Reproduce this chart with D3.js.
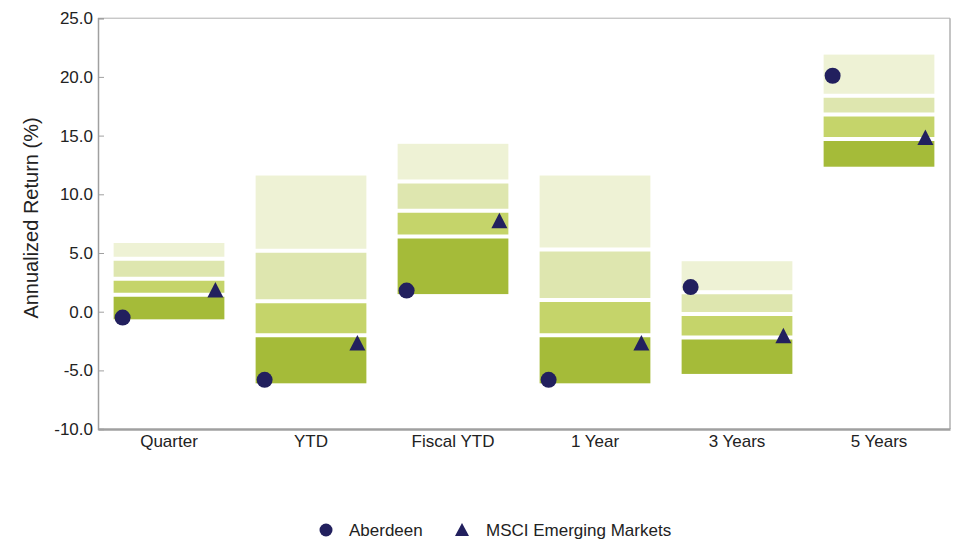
<!DOCTYPE html>
<html><head><meta charset="utf-8">
<script src="https://cdn.jsdelivr.net/npm/d3@7"></script>
<style>
html,body{margin:0;padding:0;background:#fff;}
text{font-family:"Liberation Sans",Arial,sans-serif;fill:#222;}
</style></head>
<body>
<svg id="chart" width="954" height="543"></svg>
<script>
const categories = ["Quarter","YTD","Fiscal YTD","1 Year","3 Years","5 Years"];
const p95 = [5.85, 11.6, 14.3, 11.6, 4.3, 21.9];
const p75 = [4.5, 5.2, 11.1, 5.3, 1.65, 18.4];
const p50 = [2.8, 0.9, 8.6, 1.0, -0.2, 16.8];
const p25 = [1.45, -2.0, 6.4, -2.0, -2.2, 14.7];
const p5  = [-0.65, -6.1, 1.5, -6.1, -5.3, 12.35];
const aberdeen = [-0.5, -5.8, 1.8, -5.8, 2.1, 20.1];
const msci = [1.8, -2.7, 7.7, -2.7, -2.1, 14.8];
const yTicks = [25, 20, 15, 10, 5, 0, -5, -10];
const legendLabels = ["Aberdeen", "MSCI Emerging Markets"];
const bandColors = ["#eef2d5", "#dee6af", "#c5d46a", "#a5bb39"];

const svg = d3.select("#chart");
const L = 98, R = 950, T = 18.2, B = 429.1;
const x = d3.scaleBand().domain(categories).range([L, R]).paddingInner(0.22).paddingOuter(0.11);
const y = d3.scaleLinear().domain([-10, 25]).range([B, T]);
const navy = "#22205e";

// frame
svg.append("line").attr("x1", L).attr("x2", R).attr("y1", T).attr("y2", T).attr("stroke", "#b0b0b0").attr("stroke-width", 1);
svg.append("line").attr("x1", R).attr("x2", R).attr("y1", T).attr("y2", B).attr("stroke", "#b0b0b0").attr("stroke-width", 1.5);

// bands
categories.forEach((c, i) => {
  const edges = [p95[i], p75[i], p50[i], p25[i], p5[i]];
  const g = svg.append("g");
  for (let k = 0; k < 4; k++) {
    g.append("rect")
      .attr("x", x(c)).attr("width", x.bandwidth())
      .attr("y", y(edges[k])).attr("height", y(edges[k + 1]) - y(edges[k]))
      .attr("fill", bandColors[k]);
  }
  for (let k = 1; k < 4; k++) {
    g.append("line")
      .attr("x1", x(c) - 1).attr("x2", x(c) + x.bandwidth() + 1)
      .attr("y1", y(edges[k])).attr("y2", y(edges[k]))
      .attr("stroke", "#fff").attr("stroke-width", 4);
  }
});

// axes
const fmt = d => d.toFixed(1);
const yAxis = d3.axisLeft(y).tickValues(yTicks).tickFormat(fmt).tickSize(-6).tickPadding(5);
const ya = svg.append("g").attr("transform", `translate(${L},0)`).call(yAxis);
ya.select(".domain").attr("stroke", "#a0a0a0").attr("stroke-width", 1.5);
ya.selectAll(".tick line").attr("stroke", "#a0a0a0");
ya.selectAll(".tick text").attr("font-size", 17).attr("fill", "#333").attr("font-family", "Liberation Sans, Arial, sans-serif");

const xAxis = d3.axisBottom(x).tickSize(0).tickPadding(6);
const xa = svg.append("g").attr("transform", `translate(0,${B})`).call(xAxis);
xa.select(".domain").attr("stroke", "#a0a0a0").attr("stroke-width", 2.5);
xa.selectAll(".tick text").attr("font-size", 17).attr("fill", "#222").attr("font-family", "Liberation Sans, Arial, sans-serif");

svg.append("text")
  .attr("transform", `translate(38,218) rotate(-90)`)
  .attr("text-anchor", "middle").attr("font-size", 20).attr("fill", "#333")
  .text("Annualized Return (%)");

// markers
const off = x.bandwidth() / 2 - 9;
const triPath = (cx, cy) => `M${cx},${cy - 8.5}L${cx + 8},${cy + 7}L${cx - 8},${cy + 7}Z`;
categories.forEach((c, i) => {
  const cx = x(c) + x.bandwidth() / 2;
  svg.append("circle").attr("cx", cx - off).attr("cy", y(aberdeen[i])).attr("r", 8).attr("fill", navy);
  svg.append("path").attr("d", triPath(cx + off, y(msci[i]))).attr("fill", navy);
});

// legend
const lg = svg.append("g");
lg.append("circle").attr("cx", 326).attr("cy", 530).attr("r", 6.5).attr("fill", navy);
lg.append("text").attr("x", 349).attr("y", 536).attr("font-size", 17).text(legendLabels[0]);
lg.append("path").attr("d", `M462,523L469,536L455,536Z`).attr("fill", navy);
lg.append("text").attr("x", 486).attr("y", 536).attr("font-size", 17).text(legendLabels[1]);
</script>
</body></html>
